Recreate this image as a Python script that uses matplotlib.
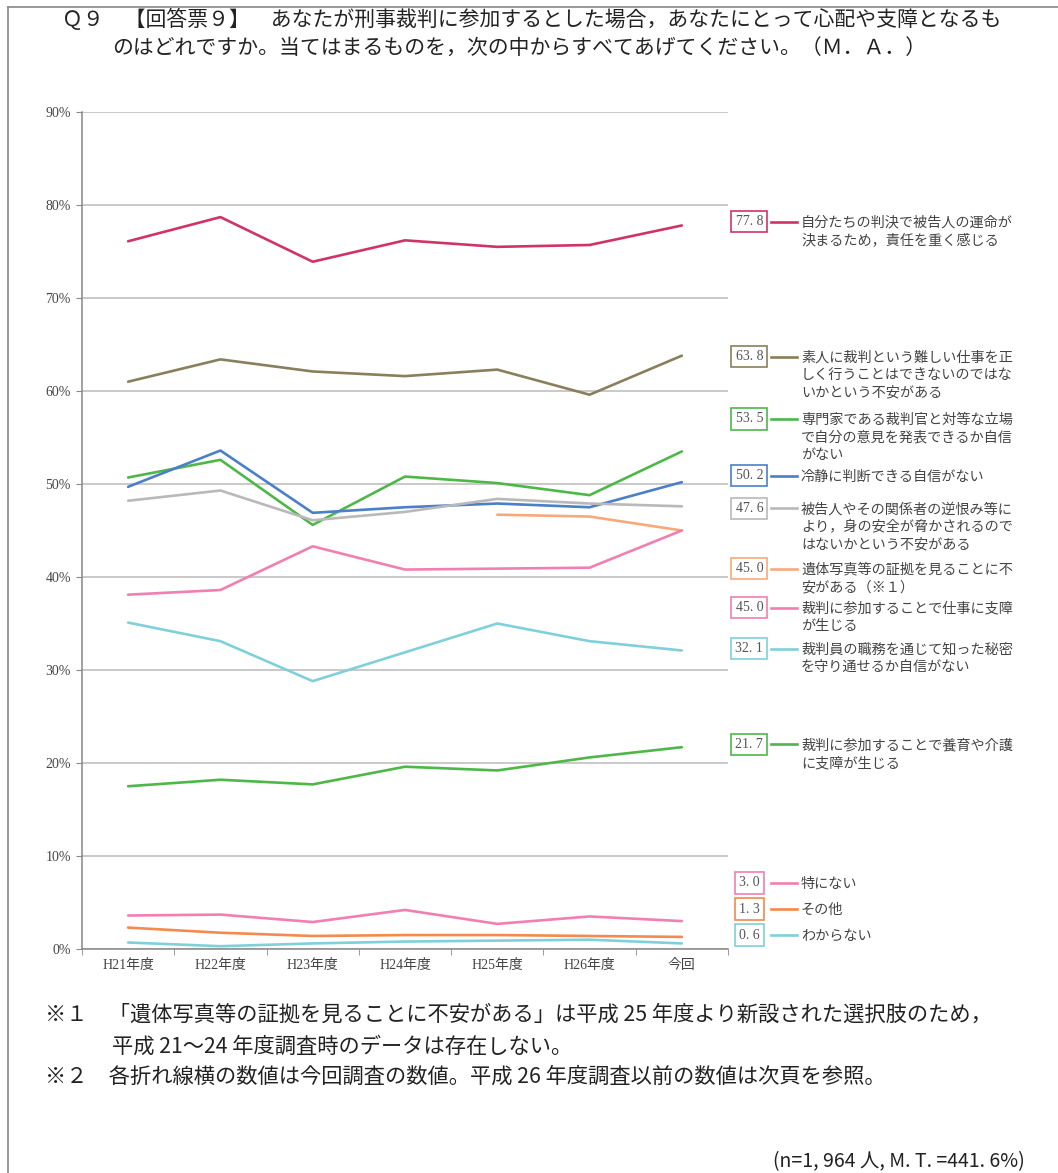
import matplotlib
matplotlib.use("Agg")
import matplotlib.pyplot as plt
from matplotlib.lines import Line2D
from matplotlib.transforms import offset_copy

plt.rcParams['font.family'] = ['Noto Sans CJK JP', 'DejaVu Sans']

# データ
years = ['H21年度', 'H22年度', 'H23年度', 'H24年度', 'H25年度', 'H26年度', '今回']

unmei = [76.1, 78.7, 73.9, 76.2, 75.5, 75.7, 77.8]
shiroto = [61.0, 63.4, 62.1, 61.6, 62.3, 59.6, 63.8]
taitou = [50.7, 52.6, 45.6, 50.8, 50.1, 48.8, 53.5]
reisei = [49.7, 53.6, 46.9, 47.5, 47.9, 47.5, 50.2]
sakaurami = [48.2, 49.3, 46.1, 47.0, 48.4, 47.9, 47.6]
itai = [None, None, None, None, 46.7, 46.5, 45.0]
shigoto = [38.1, 38.6, 43.3, 40.8, 40.9, 41.0, 45.0]
himitsu = [35.1, 33.1, 28.8, 31.9, 35.0, 33.1, 32.1]
kaigo = [17.5, 18.2, 17.7, 19.6, 19.2, 20.6, 21.7]
tokuninai = [3.6, 3.7, 2.9, 4.2, 2.7, 3.5, 3.0]
sonota = [2.3, 1.75, 1.4, 1.5, 1.5, 1.4, 1.3]
wakaranai = [0.7, 0.3, 0.6, 0.8, 0.9, 1.0, 0.6]

labels = [
    '自分たちの判決で被告人の運命が\n決まるため，責任を重く感じる',
    '素人に裁判という難しい仕事を正\nしく行うことはできないのではな\nいかという不安がある',
    '専門家である裁判官と対等な立場\nで自分の意見を発表できるか自信\nがない',
    '冷静に判断できる自信がない',
    '被告人やその関係者の逆恨み等に\nより，身の安全が脅かされるので\nはないかという不安がある',
    '遺体写真等の証拠を見ることに不\n安がある（※１）',
    '裁判に参加することで仕事に支障\nが生じる',
    '裁判員の職務を通じて知った秘密\nを守り通せるか自信がない',
    '裁判に参加することで養育や介護\nに支障が生じる',
    '特にない',
    'その他',
    'わからない',
]
series = [unmei, shiroto, taitou, reisei, sakaurami, itai, shigoto,
          himitsu, kaigo, tokuninai, sonota, wakaranai]
colors = ['#d03466', '#8a7f5c', '#4db848', '#4a7fc9', '#b9b9b9', '#f7a97c',
          '#f27fb2', '#7fd0da', '#4db848', '#f27fb2', '#f48a4d', '#7fd0da']

# 右側ラベルの縦位置（%単位）
label_y = [78.2, 63.7, 57.0, 50.9, 47.4, 40.9, 36.7, 32.3, 22.0, 7.1, 4.3, 1.5]

fig = plt.figure(figsize=(10.58, 11.73), dpi=100)

# ページ枠
fig.add_artist(Line2D([8 / 1058, 1], [1 - 7 / 1173, 1 - 7 / 1173], color='#888888', lw=1.2))
fig.add_artist(Line2D([8 / 1058, 8 / 1058], [0, 1 - 7 / 1173], color='#888888', lw=1.2))

# タイトル
fig.text(62 / 1058, 1 - 20 / 1173,
         'Ｑ９　【回答票９】　あなたが刑事裁判に参加するとした場合，あなたにとって心配や支障となるも',
         fontsize=15, color='#222222', va='center', ha='left')
fig.text(112 / 1058, 1 - 48 / 1173,
         'のはどれですか。当てはまるものを，次の中からすべてあげてください。（Ｍ．Ａ．）',
         fontsize=15, color='#222222', va='center', ha='left')

ax = fig.add_axes([82 / 1058, 1 - 949 / 1173, 646 / 1058, 837 / 1173])

x = list(range(len(years)))
for vals, c in zip(series, colors):
    xs = [i for i, v in zip(x, vals) if v is not None]
    ys = [v for v in vals if v is not None]
    ax.plot(xs, ys, color=c, lw=1.9, solid_capstyle='round', zorder=3)

ax.set_ylim(0, 90)
ax.set_xlim(-0.5, len(years) - 0.5)
ax.set_yticks(range(0, 91, 10))
ax.set_yticklabels([f'{v}%' for v in range(0, 91, 10)],
                   fontsize=10, color='#444444', family=['Liberation Serif', 'Noto Sans CJK JP'])
ax.set_xticks(x)
ax.set_xticklabels(years, fontsize=10, color='#444444',
                   family=['Liberation Serif', 'Noto Sans CJK JP'])
ax.set_xticks([i - 0.5 for i in range(len(years) + 1)], minor=True)
ax.tick_params(axis='x', which='major', length=0, pad=7)
ax.tick_params(axis='x', which='minor', length=4, color='#888888')
ax.tick_params(axis='y', length=4, color='#888888', pad=4)
ax.grid(axis='y', color='#bbbbbb', lw=1.1)
ax.set_axisbelow(True)
for s in ['top', 'right']:
    ax.spines[s].set_visible(False)
for s in ['left', 'bottom']:
    ax.spines[s].set_color('#888888')
    ax.spines[s].set_linewidth(1.1)

# 右側の数値ボックスと説明
tr = ax.get_yaxis_transform()
tr_text = offset_copy(tr, fig=fig, y=6, units='dots')
for vals, c, lab, ly in zip(series, colors, labels, label_y):
    ax.text(1.033, ly, f'{vals[-1]:.1f}'.replace('.', '. '), transform=tr,
            fontsize=10, color='#555555', ha='center', va='center',
            family=['Liberation Serif', 'Noto Sans CJK JP'],
            bbox=dict(boxstyle='square,pad=0.3', fc='white', ec=c, lw=1.2),
            clip_on=False)
    ax.add_line(Line2D([1.066, 1.107], [ly, ly], transform=tr, color=c,
                       lw=1.9, clip_on=False))
    ax.text(1.113, ly, lab, transform=tr_text, fontsize=10.2, color='#444444',
            ha='left', va='top', linespacing=1.32, clip_on=False)

# 注記
fig.text(45 / 1058, 1 - 1015 / 1173,
         '※１　「遺体写真等の証拠を見ることに不安がある」は平成 25 年度より新設された選択肢のため，',
         fontsize=15.3, color='#222222', va='center', ha='left')
fig.text(112 / 1058, 1 - 1047 / 1173,
         '平成 21～24 年度調査時のデータは存在しない。',
         fontsize=15.3, color='#222222', va='center', ha='left')
fig.text(45 / 1058, 1 - 1077 / 1173,
         '※２　各折れ線横の数値は今回調査の数値。平成 26 年度調査以前の数値は次頁を参照。',
         fontsize=15.3, color='#222222', va='center', ha='left')
fig.text(1025 / 1058, 1 - 1162 / 1173,
         '(n=1, 964 人, M. T. =441. 6%)',
         fontsize=14, color='#222222', va='center', ha='right')

fig.savefig('out.png', dpi=100)
